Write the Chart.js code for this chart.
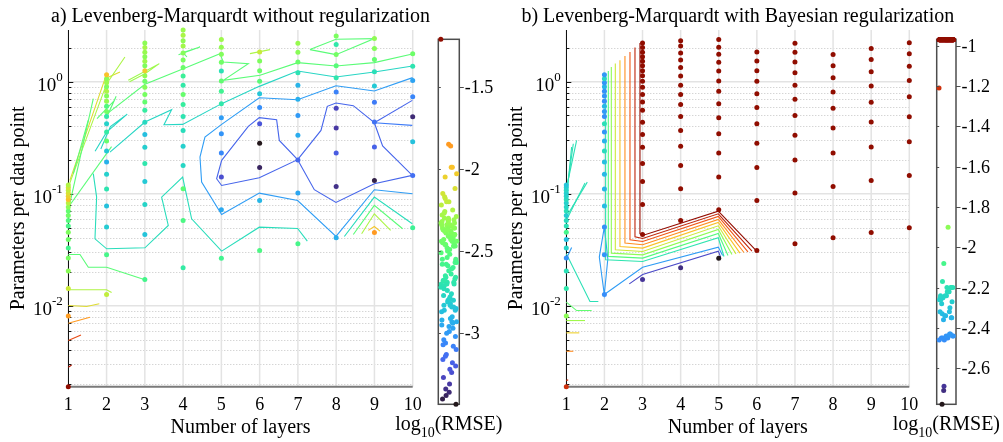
<!DOCTYPE html>
<html>
<head>
<meta charset="utf-8">
<script src="https://cdn.jsdelivr.net/npm/chart.js@4.4.1/dist/chart.umd.min.js"></script>
<style>
  body { margin: 0; background: #fff; }
  #wrap { position: relative; width: 1003px; height: 442px; overflow: hidden; }
  canvas { position: absolute; top: 0; }
</style>
</head>
<body>
<div id="wrap">
  <canvas id="panelA" width="510" height="442" style="left:0px"></canvas>
  <canvas id="barA" width="125" height="442" style="left:385px"></canvas>
  <canvas id="panelB" width="503" height="442" style="left:500px"></canvas>
  <canvas id="barB" width="123" height="442" style="left:880px"></canvas>
</div>
<script>
// number of hidden layers
const layers = [1, 2, 3, 4, 5, 6, 7, 8, 9, 10];

// parameters per data point, one list per layer count (low -> high)
const params = [
  [0.0019, 0.0081, 0.0143, 0.0205, 0.0267, 0.0329, 0.0391, 0.0453, 0.0515, 0.0577, 0.0639, 0.0701, 0.0763, 0.0825, 0.0887, 0.0949, 0.1011, 0.1073, 0.1135, 0.1197],
  [0.0126, 0.0286, 0.0506, 0.0776, 0.110, 0.149, 0.192, 0.241, 0.296, 0.355, 0.422, 0.490, 0.543, 0.602, 0.668, 0.744, 0.820, 0.899, 0.976, 1.060, 1.151],
  [0.0172, 0.0432, 0.0803, 0.1288, 0.1866, 0.2593, 0.3386, 0.4334, 0.555, 0.660, 0.770, 0.890, 1.007, 1.127, 1.249, 1.384, 1.519, 1.667, 1.828, 2.013, 2.213],
  [0.0219, 0.0578, 0.111, 0.179, 0.266, 0.367, 0.490, 0.624, 0.770, 0.927, 1.123, 1.335, 1.56, 1.80, 2.08, 2.32, 2.59, 2.89],
  [0.0266, 0.0720, 0.1408, 0.2306, 0.3436, 0.4774, 0.6364, 0.820, 1.013, 1.244, 1.488, 1.754, 2.026, 2.373],
  [0.0312, 0.0872, 0.1712, 0.2826, 0.4203, 0.5875, 0.782, 1.007, 1.254, 1.525, 1.839],
  [0.0358, 0.1017, 0.2005, 0.3331, 0.4984, 0.6956, 0.927, 1.204, 1.497, 1.828, 2.199],
  [0.0405, 0.1162, 0.2315, 0.3855, 0.578, 0.808, 1.082, 1.384, 1.743, 2.141, 2.555],
  [0.0452, 0.1310, 0.2609, 0.4361, 0.6536, 0.914, 1.224, 1.576, 1.972, 2.422],
  [0.0498, 0.1458, 0.2914, 0.4874, 0.732, 1.024, 1.376, 1.772, 2.222]
];

// log10(RMSE), a) without regularization (null = no network)
const rmseA = [
  [-1.211, -1.86, -2.17, -2.36, -2.41, -2.58, -2.44, -2.39, -2.56, -2.52, -2.43, -2.47, -2.35, -2.22, -1.99, -2.05, -2.12, -2.2, -2.15, -2.25],
  [-2.2, -2.57, -2.82, -2.86, -2.7, -2.8, -2.92, -2.84, -2.46, -2.66, -2.79, -2.68, -2.42, -2.54, -2.33, -2.38, -2.26, -2.4, -2.31, -2.36, -1.99],
  [-2.58, -2.85, -2.78, -2.83, -2.69, -2.81, -2.87, -2.76, -2.65, -2.47, -2.41, -2.37, -2.44, -2.34, -2.03, -2.39, -2.3, -2.36, -2.32, -2.28, -2.35],
  [-2.66, -2.55, -2.49, -2.77, -2.8, -2.74, -2.7, -2.64, -2.46, -2.67, -2.62, -2.45, -2.4, -2.37, -2.29, -2.34, -2.27, -2.31],
  [-2.59, -2.95, -3.24, -3.06, -3.02, -2.99, -2.68, -2.6, -2.48, -2.72, -2.43, -2.38, -2.33, -2.3],
  [-2.55, -2.9, -3.38, -3.433, -3.22, -3.04, -2.84, -2.5, -2.44, -2.39, -2.18],
  [-2.57, -2.96, -3.16, -2.94, -3.0, -2.93, -2.91, -2.71, -2.45, -2.36, -2.32],
  [-2.93, -3.34, -3.2, -3.31, -3.27, -3.08, -2.69, -2.51, -2.42, -2.68, -2.4],
  [-1.85, -3.4, -3.18, -3.13, -3.1, -2.83, -2.73, -2.47, -2.37, -2.34],
  [-2.61, -3.14, -2.86, -3.36, -3.07, -2.97, -2.7, -2.44, null]
];

// log10(RMSE), b) with Bayesian regularization
const rmseB = [
  [-1.21, -1.9, -2.17, -2.2, -2.45, -2.25, -2.32, -2.08, -2.2, -2.22, -2.28, -2.2, -2.24, -2.26, -2.22, -2.25, -2.27, -2.24, -2.26, -2.3],
  [-2.46, -2.44, -2.45, -2.33, -2.35, -2.34, -2.32, -2.22, -2.36, -2.44, -2.2, -2.45, -2.43, -2.34, -2.46, -2.44, -2.45, -2.35, -2.44, -2.24, -2.43],
  [-2.69, -0.97, -0.97, -0.97, -0.97, -0.97, -0.97, -0.97, -0.97, -0.97, -0.97, -0.97, -0.97, -0.97, -0.97, -0.97, -0.97, -0.97, -0.97, -0.97, -0.97],
  [-2.71, -0.97, -0.97, -0.97, -0.97, -0.97, -0.97, -0.97, -0.97, -0.97, -0.97, -0.97, -0.97, -0.97, -0.97, -0.97, null, null],
  [-2.779, -0.97, -0.97, -0.97, -0.97, -0.97, -0.97, -0.97, -0.97, -0.97, -0.97, -0.97, -0.97, -0.97],
  [-0.97, -0.97, -0.97, -0.97, -0.97, -0.97, -0.97, -0.97, -0.97, -0.97, -0.97],
  [-0.97, -0.97, -0.97, -0.97, -0.97, -0.97, -0.97, -0.97, -0.97, -0.97, -0.97],
  [-0.97, -0.97, -0.97, -0.97, -0.97, -0.97, -0.97, -0.97, -0.97, null, null],
  [-0.97, -0.97, -0.97, -0.97, -0.97, -0.97, -0.97, -0.97, -0.97, null],
  [-0.97, -0.97, -0.97, -0.97, -0.97, -0.97, -0.97, -0.97, -0.97]
];

const rangeA = [-3.433, -1.211];
const rangeB = [-2.779, -0.968];
const barTicksA = [-1.5, -2, -2.5, -3];
const barTicksB = [-1, -1.2, -1.4, -1.6, -1.8, -2, -2.2, -2.4, -2.6];
const yDecades = [0.01, 0.1, 1];
const yRange = [0.0019, 2.89];

// contour lines: level (log10 RMSE) and path as [layers, log10(params)]
const contourLevelsA = [-3.17, -3.17, -3.17, -3.1, -2.99, -2.77, -2.77, -2.74, -2.74,
  -2.5, -2.5, -2.5, -2.5, -2.5, -2.5, -2.5, -2.5, -2.5,
  -2.26, -2.3, -2.26, -2.25, -2.26, -2.1, -2.1, -2.01, -1.85, -1.6, -1.4];
const contourPathsA = [
  [[5.007, -0.702], [5.704, -0.399], [5.991, -0.321], [6.444, -0.339], [6.514, -0.524], [6.993, -0.696], [5.991, -0.857], [5.007, -0.926], [4.876, -0.866], [5.007, -0.702]],
  [[6.993, -0.696], [7.603, -0.435], [7.768, -0.220], [7.995, -0.190], [8.448, -0.214], [8.997, -0.366], [9.214, -0.574], [9.990, -0.836], [8.997, -0.911], [7.995, -1.077], [7.429, -0.964], [6.993, -0.696]],
  [[8.997, -0.366], [9.990, -0.167]],
  [[8.997, -0.366], [9.990, -0.390]],
  [[9.998, 0.036], [8.997, -0.083], [7.995, -0.036], [6.993, -0.161], [5.991, -0.143], [5.007, -0.381], [4.571, -0.494], [4.441, -0.673], [4.484, -0.896], [5.007, -1.185], [5.991, -0.994], [6.993, -1.060], [7.995, -1.381], [8.997, -0.964], [9.998, -1.0]],
  [[2.089, -0.628], [3.003, -0.360], [3.700, -0.250], [3.500, -0.384], [3.988, -0.381], [5.007, -0.196], [5.991, -0.042], [6.993, 0.095], [7.995, 0.042], [8.997, 0.086], [9.998, 0.140]],
  [[1.70, -0.62], [2.0, -0.45], [2.54, -0.29], [2.1, -0.40], [1.85, -0.60]],
  [[1.653, -0.821], [1.740, -1.030], [1.697, -1.402], [2.002, -1.491], [3.003, -1.482], [3.613, -1.283], [3.439, -1.030], [3.988, -0.851], [4.223, -1.223], [5.007, -1.512], [5.991, -1.298], [6.993, -1.310], [7.246, -1.423]],
  [[8.213, -1.381], [8.997, -1.030], [9.990, -1.268]],
  [[1.958, -0.301], [3.003, -0.024], [4.005, 0.116], [4.963, 0.250], [5.051, 0.176], [5.704, 0.161], [5.051, 0.012], [6.009, 0.057], [6.993, 0.170], [7.995, 0.140], [8.997, 0.170], [9.990, 0.247]],
  [[7.315, 0.286], [7.995, 0.378], [8.997, 0.384], [7.995, 0.241], [7.315, 0.286]],
  [[3.88, 0.24], [4.44, 0.31], [4.0, 0.26], [4.1, 0.22]],
  [[8.448, -1.363], [8.997, -1.104], [9.737, -1.312]],
  [[1, -1.542], [1.305, -1.542], [1.523, -1.655], [2.002, -1.655], [3.003, -1.768]],
  [[1, -1.149], [1.653, -0.152]],
  [[1.13, -0.821], [1.52, -0.345]],
  [[1.0, -1.12], [2.13, -0.58]],
  [[1.75, -0.33], [2.2, -0.17], [2.0, -0.32], [2.25, -0.13]],
  [[1, -0.941], [2.003, -0.018], [2.48, 0.220]],
  [[2.568, 0.012], [3.378, 0.161], [3.003, 0.071], [2.6, 0.0]],
  [[8.666, -1.357], [8.997, -1.179], [9.423, -1.327]],
  [[1, -1.857], [2.0, -1.857], [2.132, -1.881]],
  [[5.747, 0.250], [6.270, 0.286]],
  [[1.04, -0.881], [1.96, 0.027], [2.35, 0.086]],
  [[1, -1.997], [1.479, -2.006], [1.81, -1.982]],
  [[8.840, -1.327], [8.997, -1.292], [9.145, -1.333]],
  [[1, -2.155], [1.566, -2.101]],
  [[1, -2.31], [1.331, -2.259]],
  [[1, -2.548], [1.087, -2.527]]
];

const contourLevelsB = [-1.022, -1.167, -1.312, -1.457, -1.602, -1.747, -1.892, -2.036, -2.181,
  -2.42, -2.42, -2.634, -2.2, -2.2, -2.2, -2.2, -2.2, -2.42, -2.2, -2.0, -1.85, -1.65, -1.45, -1.2];
const contourPathsB = [
  [[2.933, 0.345], [2.933, -1.357], [3.003, -1.372], [4.988, -1.155], [5.977, -1.506]],
  [[2.802, 0.304], [2.802, -1.384], [3.003, -1.399], [4.988, -1.179], [5.872, -1.512]],
  [[2.671, 0.265], [2.671, -1.411], [3.003, -1.426], [4.988, -1.202], [5.767, -1.518]],
  [[2.539, 0.229], [2.539, -1.440], [3.003, -1.455], [4.988, -1.229], [5.662, -1.524]],
  [[2.408, 0.190], [2.408, -1.470], [3.003, -1.485], [4.988, -1.256], [5.557, -1.530]],
  [[2.286, 0.161], [2.286, -1.500], [3.003, -1.515], [4.988, -1.286], [5.452, -1.536]],
  [[2.181, 0.131], [2.181, -1.530], [3.003, -1.545], [4.988, -1.318], [5.347, -1.542]],
  [[2.102, 0.095], [2.102, -1.559], [3.003, -1.574], [4.988, -1.354], [5.242, -1.551]],
  [[2.032, 0.065], [2.032, -1.589], [3.003, -1.604], [4.988, -1.393], [5.137, -1.560]],
  [[1.997, -1.298], [1.866, -1.565], [1.997, -1.899], [2.09, -1.58], [1.997, -1.298]],
  [[1.997, -1.899], [3.003, -1.655], [4.988, -1.476], [5.102, -1.551]],
  [[2.653, -1.804], [3.003, -1.720], [4.988, -1.512], [5.05, -1.565]],
  [[1.009, -0.940], [1.271, -0.524]],
  [[1.0, -1.0], [1.184, -0.554]],
  [[1.0, -1.06], [1.140, -0.583]],
  [[1.05, -1.179], [1.551, -0.896]],
  [[1.0, -1.238], [1.49, -0.905]],
  [[1, -1.58], [1.14, -1.48]],
  [[1, -1.536], [1.621, -1.961], [1.84, -1.961]],
  [[1, -1.967], [1.271, -2.042], [1.665, -2.042]],
  [[1, -2.131], [1.49, -2.131]],
  [[1, -2.241], [1.341, -2.241]],
  [[1, -2.405], [1.184, -2.405]],
  [[1, -2.667], [1.05, -2.66]]
];

const FONT = '"Liberation Serif", "Times New Roman", serif';

// turbo colour map
function turbo(t) {
  t = Math.max(0, Math.min(1, t));
  const r = 0.13572138 + t * (4.61539260 + t * (-42.66032258 + t * (132.13108234 + t * (-152.94239396 + t * 59.28637943))));
  const g = 0.09140261 + t * (2.19418839 + t * (4.84296658 + t * (-14.18503333 + t * (4.27729857 + t * 2.82956604))));
  const b = 0.10667330 + t * (12.64194608 + t * (-60.58204836 + t * (110.36276771 + t * (-89.90310912 + t * 27.34824973))));
  const c = v => Math.round(255 * Math.max(0, Math.min(1, v)));
  return 'rgb(' + c(r) + ',' + c(g) + ',' + c(b) + ')';
}
function tcolor(v, range) {
  return turbo((v - range[0]) / (range[1] - range[0]));
}

function hline(ctx, x1, x2, y) { ctx.beginPath(); ctx.moveTo(x1, y); ctx.lineTo(x2, y); ctx.stroke(); }
function vline(ctx, x, y1, y2) { ctx.beginPath(); ctx.moveTo(x, y1); ctx.lineTo(x, y2); ctx.stroke(); }

const panelDeco = {
  id: 'panelDeco',
  beforeDatasetsDraw(chart) {
    const { ctx, chartArea: a, scales: { x, y } } = chart;
    ctx.save();
    // minor grid, dotted
    ctx.strokeStyle = '#c4c4c4';
    ctx.lineWidth = 1;
    ctx.setLineDash([1, 2]);
    for (let e = -3; e <= 0; e++) {
      for (let m = 2; m <= 9; m++) {
        const v = m * Math.pow(10, e);
        if (v < y.min || v > y.max) continue;
        hline(ctx, a.left, a.right, Math.round(y.getPixelForValue(v)) + 0.5);
      }
    }
    ctx.setLineDash([]);
    ctx.strokeStyle = '#e3e3e3';
    ctx.lineWidth = 1.5;
    layers.forEach(l => vline(ctx, x.getPixelForValue(l), a.top, a.bottom));
    yDecades.forEach(v => hline(ctx, a.left, a.right, y.getPixelForValue(v)));
    // axes
    ctx.strokeStyle = '#7a7a7a';
    ctx.lineWidth = 2;
    hline(ctx, a.left, a.right, a.bottom);
    ctx.strokeStyle = '#111';
    ctx.lineWidth = 1;
    vline(ctx, Math.round(a.left) + 0.5, a.top, a.bottom);
    for (let e = -3; e <= 0; e++) {
      for (let m = 1; m <= 9; m++) {
        const v = m * Math.pow(10, e);
        if (v < y.min || v > y.max) continue;
        const py = Math.round(y.getPixelForValue(v)) + 0.5;
        hline(ctx, a.left, a.left + (m === 1 ? 5 : 3), py);
      }
    }
    ctx.restore();
  },
  afterDraw(chart, args, opts) {
    const { ctx, chartArea: a, scales: { x, y } } = chart;
    const cx = (a.left + a.right) / 2;
    ctx.save();
    ctx.fillStyle = '#000';
    // title
    ctx.font = '20px ' + FONT;
    ctx.textAlign = 'center';
    ctx.textBaseline = 'alphabetic';
    ctx.fillText(opts.title, cx, 22);
    // x ticks
    ctx.font = '18px ' + FONT;
    layers.forEach(l => ctx.fillText(String(l), x.getPixelForValue(l), a.bottom + 23.5));
    // x title
    ctx.font = '20px ' + FONT;
    ctx.fillText('Number of layers', cx, a.bottom + 46.5);
    // y ticks 10^k
    yDecades.forEach(v => {
      const py = y.getPixelForValue(v);
      const ex = String(Math.round(Math.log10(v)));
      ctx.textAlign = 'right';
      ctx.font = '13px ' + FONT;
      const right = a.left - 5.5;
      ctx.fillText(ex, right, py - 0.5);
      const w = ctx.measureText(ex).width;
      ctx.font = '19px ' + FONT;
      ctx.fillText('10', right - w, py + 9.5);
    });
    // y title
    ctx.translate(a.left - 44, (a.top + a.bottom) / 2);
    ctx.rotate(-Math.PI / 2);
    ctx.textAlign = 'center';
    ctx.font = '20px ' + FONT;
    ctx.fillText('Parameters per data point', 0, 0);
    ctx.restore();
  }
};

const barDeco = {
  id: 'barDeco',
  beforeDatasetsDraw(chart) {
    const { ctx, chartArea: a } = chart;
    ctx.save();
    ctx.strokeStyle = '#4d4d4d';
    ctx.lineWidth = 1.5;
    ctx.strokeRect(a.left, a.top, a.right - a.left, a.bottom - a.top);
    ctx.restore();
  },
  afterDraw(chart, args, opts) {
    const { ctx, chartArea: a, scales: { y } } = chart;
    ctx.save();
    ctx.strokeStyle = '#4d4d4d';
    ctx.lineWidth = 1;
    ctx.fillStyle = '#000';
    ctx.font = '18px ' + FONT;
    ctx.textAlign = 'left';
    ctx.textBaseline = 'middle';
    opts.ticks.forEach(t => {
      const py = Math.round(y.getPixelForValue(t)) + 0.5;
      hline(ctx, a.right, a.right + 4.5, py);
      hline(ctx, a.left, a.left + 2.5, py);
      ctx.fillText(String(t), a.right + 5.5, py + 1);
    });
    // log10(RMSE)
    ctx.textBaseline = 'alphabetic';
    ctx.font = '20px ' + FONT;
    const w1 = ctx.measureText('log').width;
    const w3 = ctx.measureText('(RMSE)').width;
    ctx.font = '14px ' + FONT;
    const w2 = ctx.measureText('10').width;
    let sx = (a.left + a.right) / 2 - (w1 + w2 + w3) / 2;
    ctx.font = '20px ' + FONT;
    ctx.fillText('log', sx, 430);
    ctx.font = '14px ' + FONT;
    ctx.fillText('10', sx + w1, 437);
    ctx.font = '20px ' + FONT;
    ctx.fillText('(RMSE)', sx + w1 + w2, 430);
    ctx.restore();
  }
};

function makePanel(id, rmse, range, levels, paths, title, pad) {
  const pts = [];
  params.forEach((col, i) => col.forEach((p, j) => {
    if (rmse[i][j] !== null) pts.push({ x: layers[i], y: p, v: rmse[i][j] });
  }));
  const datasets = [{
    data: pts,
    order: 0,
    pointRadius: 2.5,
    pointHoverRadius: 2.5,
    pointBorderWidth: 0,
    pointBackgroundColor: c => (c.raw ? tcolor(c.raw.v, range) : '#000'),
    clip: false
  }];
  paths.forEach((path, k) => {
    datasets.push({
      data: path.map(p => ({ x: p[0], y: Math.pow(10, p[1]) })),
      showLine: true,
      pointRadius: 0,
      borderWidth: 1.1,
      borderColor: tcolor(levels[k], range),
      order: 1,
      clip: false
    });
  });
  return new Chart(document.getElementById(id), {
    type: 'scatter',
    data: { datasets },
    options: {
      responsive: false,
      animation: false,
      devicePixelRatio: 1,
      events: [],
      layout: { padding: pad },
      scales: {
        x: { type: 'linear', min: 1, max: 10, display: false },
        y: { type: 'logarithmic', min: yRange[0], max: yRange[1], display: false }
      },
      plugins: {
        legend: { display: false },
        tooltip: { enabled: false },
        panelDeco: { title }
      }
    },
    plugins: [panelDeco]
  });
}

function makeBar(id, rmse, range, ticks, pad) {
  const pts = [];
  let k = 0;
  rmse.forEach(col => col.forEach(v => {
    if (v === null) return;
    const jit = (k * 0.6180339887) % 1; // spread points across the strip
    pts.push({ x: 0.12 + 0.76 * jit, y: v });
    k++;
  }));
  return new Chart(document.getElementById(id), {
    type: 'scatter',
    data: {
      datasets: [{
        data: pts,
        pointRadius: 2.5,
        pointBorderWidth: 0,
        pointBackgroundColor: c => (c.raw ? tcolor(c.raw.y, range) : '#000'),
        clip: false
      }]
    },
    options: {
      responsive: false,
      animation: false,
      devicePixelRatio: 1,
      events: [],
      layout: { padding: pad },
      scales: {
        x: { type: 'linear', min: 0, max: 1, display: false },
        y: { type: 'linear', min: range[0], max: range[1], display: false }
      },
      plugins: {
        legend: { display: false },
        tooltip: { enabled: false },
        barDeco: { ticks }
      }
    },
    plugins: [barDeco]
  });
}

makePanel('panelA', rmseA, rangeA, contourLevelsA, contourPathsA,
  'a) Levenberg-Marquardt without regularization',
  { left: 68.3, right: 97.3, top: 30, bottom: 55.3 });
makeBar('barA', rmseA, rangeA, barTicksA, { left: 53.3, right: 50.7, top: 39.3, bottom: 37.7 });
makePanel('panelB', rmseB, rangeB, contourLevelsB, contourPathsB,
  'b) Levenberg-Marquardt with Bayesian regularization',
  { left: 66.3, right: 93.7, top: 30, bottom: 55.3 });
makeBar('barB', rmseB, rangeB, barTicksB, { left: 56.7, right: 47, top: 39.3, bottom: 37.7 });
</script>
</body>
</html>
